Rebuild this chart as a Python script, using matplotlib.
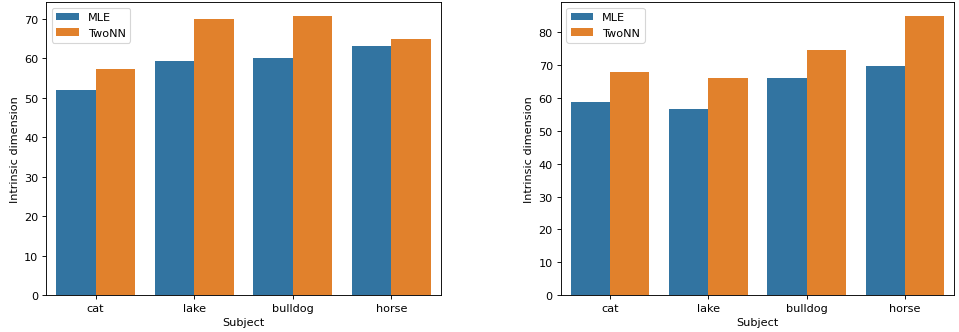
import matplotlib
matplotlib.use("Agg")
import matplotlib.pyplot as plt
import pandas as pd
import seaborn as sns

subjects = ["cat", "lake", "bulldog", "horse"]
methods = ["MLE", "TwoNN"]

# Intrinsic dimension estimates, first panel
left_mle = [52.0, 59.3, 60.0, 63.1]
left_twonn = [57.4, 70.1, 70.7, 65.0]

# Intrinsic dimension estimates, second panel
right_mle = [58.8, 56.6, 66.0, 69.7]
right_twonn = [68.0, 66.0, 74.6, 84.9]


def to_frame(mle, twonn):
    rows = []
    for s, v in zip(subjects, mle):
        rows.append({"Subject": s, "Method": "MLE", "Intrinsic dimension": v})
    for s, v in zip(subjects, twonn):
        rows.append({"Subject": s, "Method": "TwoNN", "Intrinsic dimension": v})
    return pd.DataFrame(rows)


DPI = 81
fig = plt.figure(figsize=(959 / DPI, 333 / DPI), dpi=DPI)
ax1 = fig.add_axes([0.0483, 0.111, 0.4113, 0.879])
ax2 = fig.add_axes([0.5847, 0.111, 0.4104, 0.879])

for ax, (mle, twonn) in zip([ax1, ax2], [(left_mle, left_twonn), (right_mle, right_twonn)]):
    df = to_frame(mle, twonn)
    sns.barplot(data=df, x="Subject", y="Intrinsic dimension", hue="Method",
                hue_order=methods, order=subjects, ax=ax)
    ax.legend(loc="upper left")

fig.savefig("out.png", dpi=DPI)
